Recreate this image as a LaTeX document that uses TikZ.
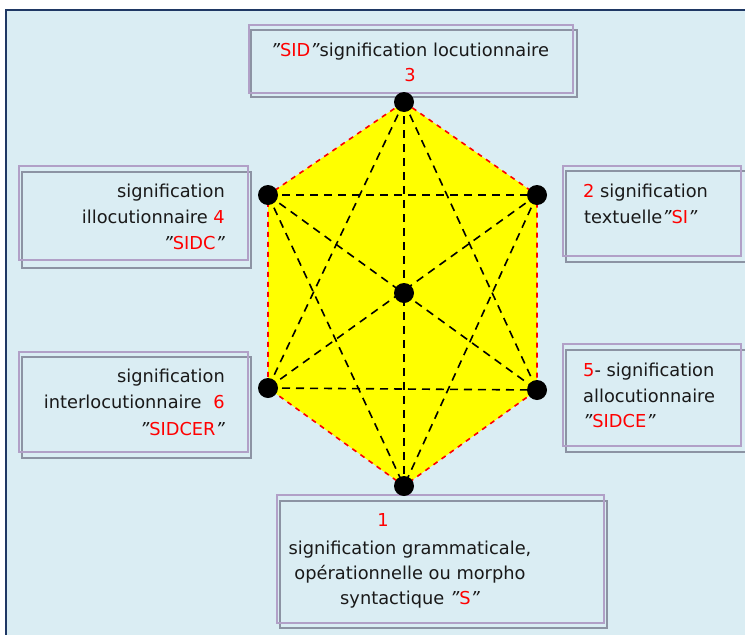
\documentclass[tikz,border=0pt]{standalone}
\usepackage{fontspec}
\setmainfont{DejaVu Sans}
\definecolor{bgblue}{HTML}{DAEDF3}
\definecolor{navy}{HTML}{1F3864}
\definecolor{lav}{HTML}{B1A0C7}
\definecolor{boxgray}{HTML}{8C93A3}
\definecolor{hexyellow}{HTML}{FFFF00}
\definecolor{txtred}{HTML}{FF0000}
\newcommand{\qq}{{\itshape"}}
\begin{document}
\begin{tikzpicture}[x=1pt,y=-1pt,
  lavbox/.style={draw=lav,line width=2.2pt},
  graybox/.style={draw=boxgray,fill=bgblue,line width=2.2pt},
  txt/.style={inner sep=0pt,font=\fontsize{17.8}{20}\selectfont,text=black!90},
  vdot/.style={circle,fill=black,minimum size=20pt,inner sep=0pt},
  diag/.style={draw=black,line width=1.6pt,dash pattern=on 8pt off 6pt},
  edge/.style={draw=txtred,line width=1.6pt,dash pattern=on 5pt off 5pt}]
\useasboundingbox (0,0) rectangle (745,635);
\clip (0,0) rectangle (745,635);
\fill[white] (0,0) rectangle (745,635);
\draw[navy,fill=bgblue,line width=1.6pt] (6,10) rectangle (770,660);
% boxes
\draw[graybox] (251,30) rectangle (577,97);
\draw[lavbox] (249,25) rectangle (573,93);
\draw[graybox] (22,172) rectangle (251,268);
\draw[lavbox] (19,166) rectangle (248,260);
\draw[graybox] (566,171) rectangle (746,262);
\draw[lavbox] (563,166) rectangle (741,256);
\draw[graybox] (22,357) rectangle (251,458);
\draw[lavbox] (19,352) rectangle (248,452);
\draw[graybox] (566,350) rectangle (746,452);
\draw[lavbox] (563,344) rectangle (741,446);
\draw[graybox] (280,501) rectangle (607,628);
\draw[lavbox] (277,495) rectangle (604,623);
% hexagon vertices
\coordinate (v3) at (404,102);
\coordinate (v4) at (268,195);
\coordinate (v2) at (537,195);
\coordinate (v6) at (268,388);
\coordinate (v5) at (537,390);
\coordinate (v1) at (404,486);
\coordinate (vc) at (404,293);
\fill[hexyellow] (v3) -- (v2) -- (v5) -- (v1) -- (v6) -- (v4) -- cycle;
\draw[edge] (v3) -- (v2) -- (v5) -- (v1) -- (v6) -- (v4) -- cycle;
\draw[diag] (v3) -- (v1);
\draw[diag] (v3) -- (v6);
\draw[diag] (v3) -- (v5);
\draw[diag] (v4) -- (v2);
\draw[diag] (v4) -- (v5);
\draw[diag] (v4) -- (v1);
\draw[diag] (v2) -- (v6);
\draw[diag] (v2) -- (v1);
\draw[diag] (v6) -- (v5);
\foreach \v in {v1,v2,v3,v4,v5,v6,vc} \node[vdot] (d\v) at (\v) {};
% texts
\node[txt,anchor=base] (t3a) at (410,56) {\qq\textcolor{txtred}{SID}\qq signification locutionnaire};
\node[txt,anchor=base] (t3b) at (410,81) {\textcolor{txtred}{3}};
\node[txt,anchor=base east] (t4a) at (225,197) {signification};
\node[txt,anchor=base east] (t4b) at (225,223) {illocutionnaire \textcolor{txtred}{4}};
\node[txt,anchor=base east] (t4c) at (225,249.5) {\qq\textcolor{txtred}{SIDC}\qq};
\node[txt,anchor=base west] (t2a) at (583,197) {\textcolor{txtred}{2} signification};
\node[txt,anchor=base west] (t2b) at (584,223) {textuelle\qq\textcolor{txtred}{SI}\qq};
\node[txt,anchor=base east] (t6a) at (225,382) {signification};
\node[txt,anchor=base east] (t6b) at (225,408.5) {interlocutionnaire\hspace{12pt}\textcolor{txtred}{6}};
\node[txt,anchor=base east] (t6c) at (225,435) {\qq\textcolor{txtred}{SIDCER}\qq};
\node[txt,anchor=base west] (t5a) at (583,376) {\textcolor{txtred}{5}- signification};
\node[txt,anchor=base west] (t5b) at (583,402.5) {allocutionnaire};
\node[txt,anchor=base west] (t5c) at (583,427.5) {\qq\textcolor{txtred}{SIDCE}\qq};
\node[txt,anchor=base] (t1a) at (383,526.5) {\textcolor{txtred}{1}};
\node[txt,anchor=base] (t1b) at (410,554) {signification grammaticale,};
\node[txt,anchor=base] (t1c) at (410,579.5) {opérationnelle ou morpho};
\node[txt,anchor=base] (t1d) at (410,604) {syntactique \qq\textcolor{txtred}{S}\qq};
\end{tikzpicture}
\end{document}
